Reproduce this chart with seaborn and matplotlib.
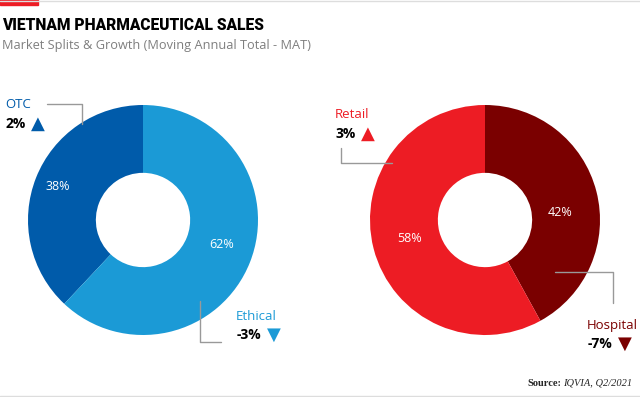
import matplotlib.pyplot as plt
import seaborn as sns
from matplotlib.lines import Line2D

# data
left_labels = ['OTC', 'Ethical']
left_shares = [38, 62]
left_growth = [2, -3]
right_labels = ['Hospital', 'Retail']
right_shares = [42, 58]
right_growth = [-7, 3]

blues = ['#005BAA', '#1B9AD6']
reds = ['#7A0000', '#ED1C24']

sns.set_theme(style="white")
plt.rcParams['font.family'] = ['Open Sans', 'DejaVu Sans']

W, H = 640, 397
fig = plt.figure(figsize=(W / 100, H / 100), dpi=100)
fig.patch.set_facecolor('white')
renderer = fig.canvas.get_renderer()


def px(x, y):
    return x / W, 1 - y / H


def donut(cx, cy, r, shares, colors, counterclock, pct_pos):
    ax = fig.add_axes([(cx - r) / W, 1 - (cy + r) / H, 2 * r / W, 2 * r / H])
    ax.pie(shares, colors=colors, startangle=90, counterclock=counterclock,
           radius=1, wedgeprops=dict(width=0.59, edgecolor='none'))
    ax.set_xlim(-1, 1)
    ax.set_ylim(-1, 1)
    ax.set_aspect('equal')
    ax.axis('off')
    for s, (x, y) in zip(shares, pct_pos):
        fig.text(*px(x, y), f'{s}%', color='white', fontsize=9,
                 ha='center', va='center')
    return ax


donut(143, 220, 115, left_shares, blues, True, [(58, 186), (222, 244)])
donut(485, 220, 115, right_shares, reds, False, [(560, 213), (410, 238)])


def callout(x, y, name, growth, color, pts):
    fig.text(*px(x, y), name, color=color, fontsize=9.5, ha='left', va='center')
    t = fig.text(*px(x + 1, y + 19), f'{growth}%', color='black', fontsize=10,
                 fontweight='bold', ha='left', va='center')
    x_end = t.get_window_extent(renderer).x1
    tri = '\u25B2' if growth > 0 else '\u25BC'
    fig.text((x_end + 5) / W, 1 - (y + 19) / H, tri, color=color, fontsize=13,
             family='DejaVu Sans', ha='left', va='center')
    xs = [p[0] / W for p in pts]
    ys = [1 - p[1] / H for p in pts]
    fig.add_artist(Line2D(xs, ys, color='#999999', lw=1))


callout(5, 105, left_labels[0], left_growth[0], blues[0],
        [(47, 104), (82, 104), (82, 124)])
callout(236, 316, left_labels[1], left_growth[1], blues[1],
        [(200, 301), (200, 342), (221, 342)])
callout(335, 115, right_labels[1], right_growth[1], reds[1],
        [(341, 148), (341, 163), (392, 163)])
callout(587, 325, right_labels[0], right_growth[0], reds[0],
        [(555, 272), (613, 272), (613, 303)])

# header
fig.text(*px(2, 25), 'VIETNAM PHARMACEUTICAL SALES', fontsize=11.2,
         fontweight='black', family=['Roboto', 'DejaVu Sans'],
         color='black', ha='left', va='center')
fig.text(*px(2, 45), 'Market Splits & Growth (Moving Annual Total - MAT)',
         fontsize=9.2, color='#7F7F7F', ha='left', va='center')
fig.add_artist(Line2D([0, 1], [1 - 1 / H, 1 - 1 / H], color='#DDDDDD', lw=1))
fig.add_artist(plt.Rectangle((0, 1 - 5 / H), 38 / W, 5 / H, color='#ED1C24',
                             transform=fig.transFigure))
fig.add_artist(Line2D([0, 1], [1.5 / H, 1.5 / H], color='#DDDDDD', lw=1))

# source
fig.text(*px(632, 383), 'IQVIA, Q2/2021', fontsize=7.5, style='italic',
         family='Liberation Serif', ha='right', va='center')
fig.text(*px(561, 383), 'Source:', fontsize=7.5, fontweight='bold',
         family='Liberation Serif', ha='right', va='center')

fig.savefig('out.png', dpi=100, facecolor='white')
